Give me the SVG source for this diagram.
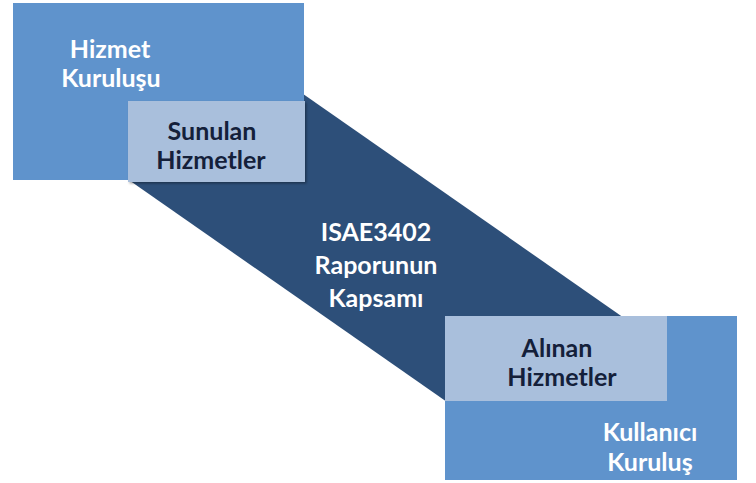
<svg xmlns="http://www.w3.org/2000/svg" width="756" height="483" viewBox="0 0 756 483">
<defs>
<style>
.outer{fill:#5f93cc;}
.inner{fill:#a9bfdc;}
.band{fill:#2d4f79;}
.t{font-family:Lato,"Liberation Sans",sans-serif;font-weight:bold;font-size:25px;text-anchor:middle;}
.w{fill:#ffffff;}
.d{fill:#14203a;}
</style>
<filter id="sh" x="-10%" y="-10%" width="130%" height="130%">
<feDropShadow dx="1.5" dy="1.5" stdDeviation="1.2" flood-color="#000" flood-opacity="0.35"/>
</filter>
</defs>
<rect width="756" height="483" fill="#ffffff"/>
<g id="scope">
<polygon class="band" points="180,8 700,371 500,439 30,111"/>
<text class="t w" x="376" y="241">ISAE3402</text>
<text class="t w" x="376" y="274">Raporunun</text>
<text class="t w" x="376" y="307">Kapsamı</text>
</g>
<g id="hizmet-kurulusu">
<rect class="outer" x="13" y="3" width="291" height="177"/>
<text class="t w" x="110" y="58" font-size="24">Hizmet</text>
<text class="t w" x="111" y="87" font-size="24">Kuruluşu</text>
</g>
<g id="sunulan-hizmetler">
<rect class="inner" x="128" y="101" width="177" height="81" filter="url(#sh)"/>
<text class="t d" x="212" y="140">Sunulan</text>
<text class="t d" x="211" y="169">Hizmetler</text>
</g>
<g id="kullanici-kurulus">
<rect class="outer" x="445" y="316" width="292" height="164"/>
<text class="t w" x="650" y="441">Kullanıcı</text>
<text class="t w" x="650" y="471">Kuruluş</text>
</g>
<g id="alinan-hizmetler">
<rect class="inner" x="445" y="316" width="222" height="85"/>
<text class="t d" x="557" y="357">Alınan</text>
<text class="t d" x="562" y="386">Hizmetler</text>
</g>
<g id="connectors"></g>
</svg>
